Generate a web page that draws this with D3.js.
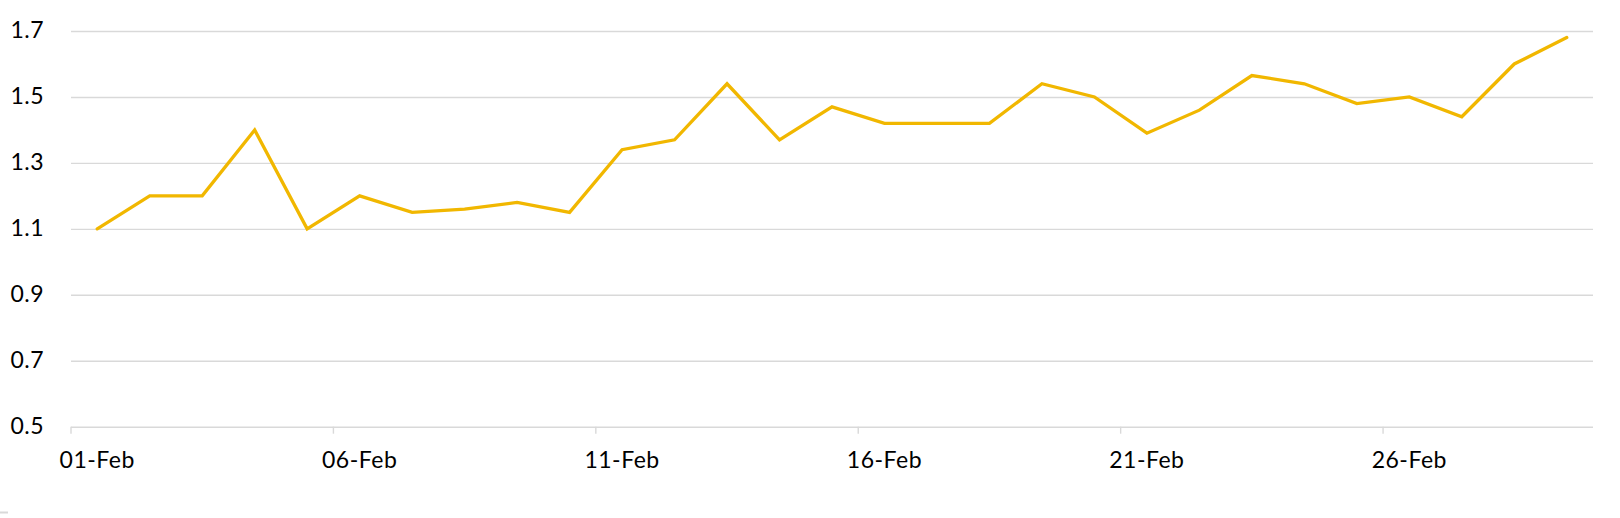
<!DOCTYPE html>
<html>
<head>
<meta charset="utf-8">
<script src="https://cdn.jsdelivr.net/npm/d3@7/dist/d3.min.js"></script>
<style>
  html, body { margin: 0; padding: 0; background: #fff; }
  svg { display: block; }
  text { font-family: Lato, "Liberation Sans", Arial, sans-serif; fill: #000; letter-spacing: 0.5px; }
</style>
</head>
<body>
<svg id="chart" width="1620" height="518"></svg>
<script>
// ---- data ----
const categories = ["01-Feb","02-Feb","03-Feb","04-Feb","05-Feb","06-Feb","07-Feb","08-Feb","09-Feb","10-Feb",
  "11-Feb","12-Feb","13-Feb","14-Feb","15-Feb","16-Feb","17-Feb","18-Feb","19-Feb","20-Feb",
  "21-Feb","22-Feb","23-Feb","24-Feb","25-Feb","26-Feb","27-Feb","28-Feb","29-Feb"];
const values = [1.10, 1.20, 1.20, 1.40, 1.10, 1.20, 1.15, 1.16, 1.18, 1.15,
  1.34, 1.37, 1.54, 1.37, 1.47, 1.42, 1.42, 1.42, 1.54, 1.50,
  1.39, 1.46, 1.565, 1.54, 1.48, 1.50, 1.44, 1.60, 1.68];
const yTicks = [0.5, 0.7, 0.9, 1.1, 1.3, 1.5, 1.7];
const xLabelEvery = 5;

(function () {
// ---- layout ----
const svg = d3.select("#chart");
const pLeft = 71, pRight = 1593, pTop = 31, pBottom = 426.7;

const x = d3.scaleBand().domain(categories).range([pLeft, pRight]).padding(0);
const y = d3.scaleLinear().domain([0.5, 1.7]).range([pBottom, pTop]);

// gridlines + y labels
const yAxis = d3.axisLeft(y)
  .tickValues(yTicks)
  .tickSize(-(pRight - pLeft))
  .tickPadding(27)
  .tickFormat(d3.format(".1f"));

const gy = svg.append("g").attr("transform", `translate(${pLeft},0)`).call(yAxis);
gy.select(".domain").remove();
gy.selectAll(".tick line").attr("stroke", "#d9d9d9").attr("stroke-width", 1.4);
gy.selectAll(".tick text")
  .attr("font-size", 23)
  .attr("dy", "0.28em")
  .attr("fill", "#000")
  .style("font-family", "Lato, 'Liberation Sans', Arial, sans-serif");

// x tick marks at category boundaries
const labeled = categories.filter((d, i) => i % xLabelEvery === 0);
svg.append("g").selectAll("line").data(labeled).join("line")
  .attr("x1", d => x(d)).attr("x2", d => x(d))
  .attr("y1", pBottom).attr("y2", pBottom + 7)
  .attr("stroke", "#d9d9d9").attr("stroke-width", 1.4);

// x labels centered on category
svg.append("g").selectAll("text").data(labeled).join("text")
  .attr("x", d => x(d) + x.bandwidth() / 2)
  .attr("y", pBottom + 41.6)
  .attr("text-anchor", "middle")
  .attr("font-size", 23)
  .text(d => d);

// line
const line = d3.line()
  .x((d, i) => x(categories[i]) + x.bandwidth() / 2)
  .y(d => y(d));

svg.append("path")
  .datum(values)
  .attr("d", line)
  .attr("fill", "none")
  .attr("stroke", "#F1B700")
  .attr("stroke-width", 3.3)
  .attr("stroke-linejoin", "miter")
  .attr("stroke-linecap", "round");

// small mark bottom-left
svg.append("rect").attr("x", 0).attr("y", 511.5).attr("width", 8).attr("height", 2).attr("fill", "#d9d9d9");
})();
</script>
</body>
</html>
